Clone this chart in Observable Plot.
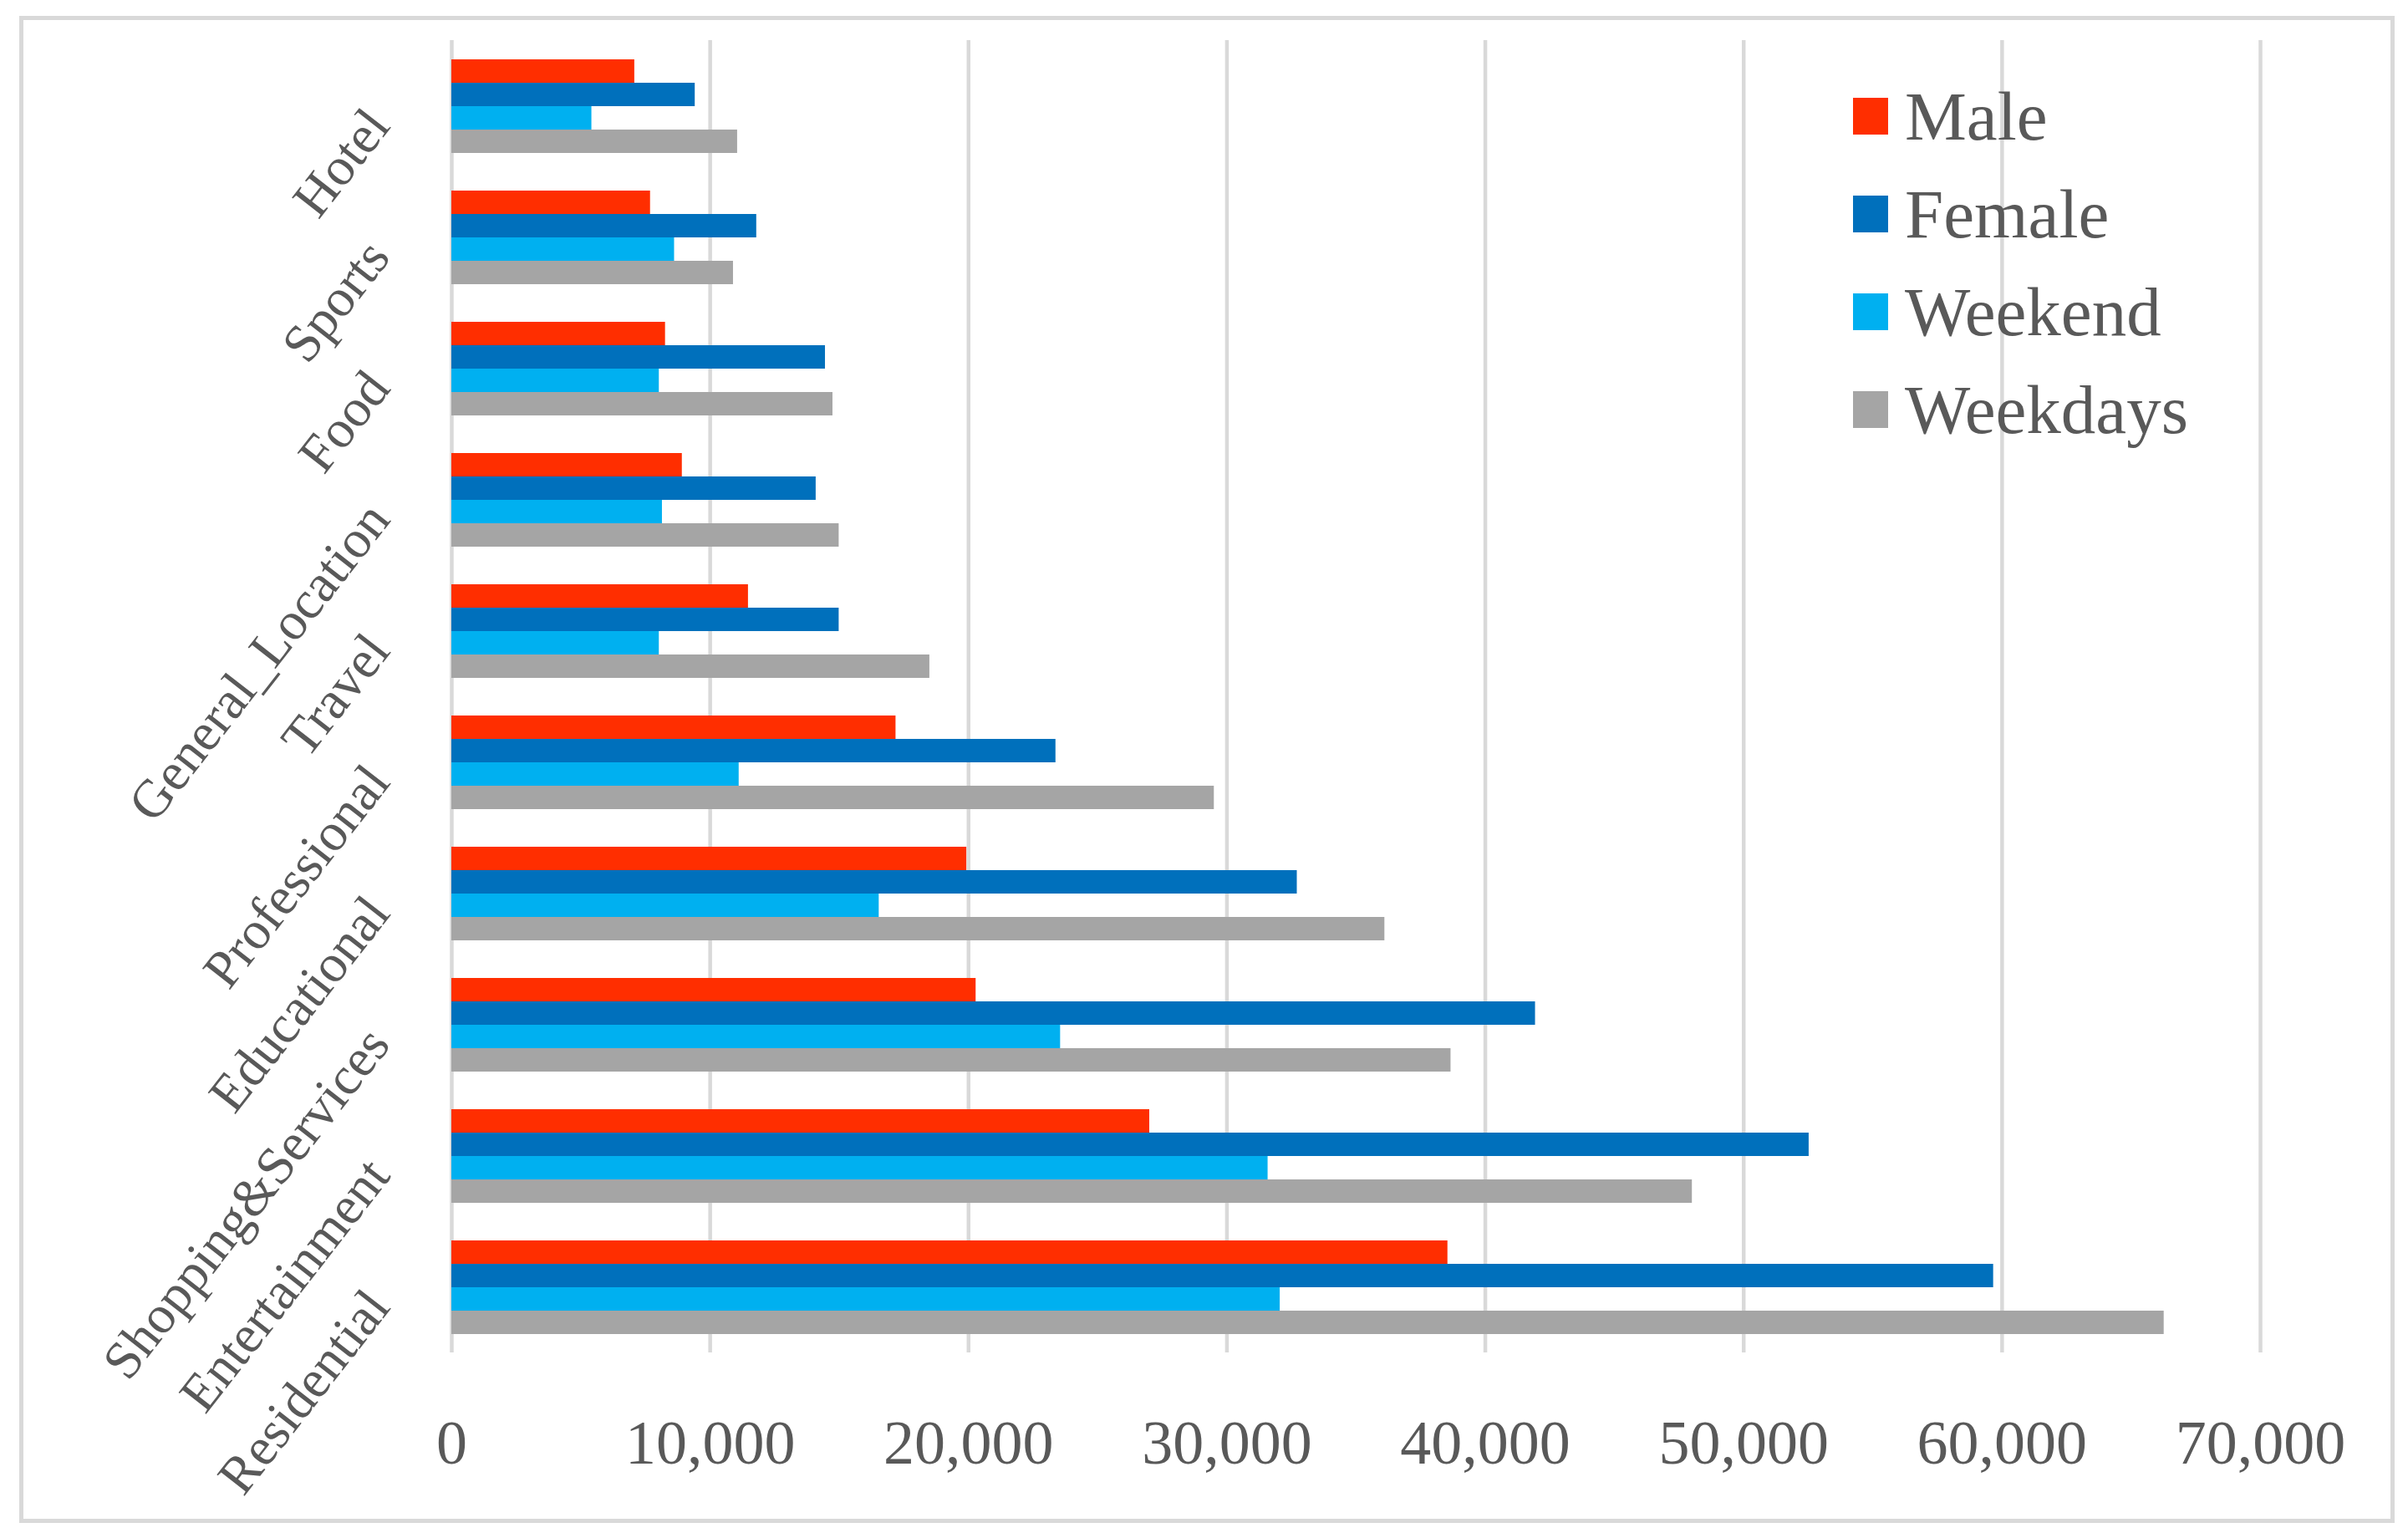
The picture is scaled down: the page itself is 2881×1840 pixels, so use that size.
<!DOCTYPE html>
<html>
<head>
<meta charset="utf-8">
<script src="https://cdn.jsdelivr.net/npm/d3@7"></script>
<script src="https://cdn.jsdelivr.net/npm/@observablehq/plot@0.6"></script>
<style>
  html, body { margin: 0; padding: 0; background: #fff; }
  #wrap { position: relative; width: 2881px; height: 1840px; overflow: hidden; }
  #border { position: absolute; left: 23px; top: 19px; width: 2842px; height: 1803px; box-sizing: border-box; border: 5px solid #d9d9d9; pointer-events: none; }
  #legend { position: absolute; left: 2217px; top: 80px; font-family: "Liberation Serif", serif; font-size: 83px; color: #595959; }
  .row { display: flex; align-items: center; height: 117px; }
  .sw { width: 42px; height: 44px; margin-right: 20px; }
</style>
</head>
<body>
<div id="wrap"><div id="border"></div><div id="legend"></div></div>
<script>
const categories = ["Hotel", "Sports", "Food", "General_Location", "Travel", "Professional", "Educational", "Shopping&Services", "Entertainment", "Residential"];
const series = ["Male", "Female", "Weekend", "Weekdays"];
const colors = ["#FF2E00", "#0070BC", "#00B0F0", "#A5A5A5"];
const male     = [7080, 7690, 8270, 8920, 11480, 17190, 19930, 20290, 27010, 38550];
const female   = [9420, 11800, 14460, 14100, 14990, 23380, 32720, 41940, 52530, 59670];
const weekend  = [5420, 8620, 8030, 8150, 8030, 11120, 16540, 23560, 31590, 32060];
const weekdays = [11060, 10900, 14750, 14990, 18500, 29510, 36110, 38670, 48010, 66270];
const xTicks = [0, 10000, 20000, 30000, 40000, 50000, 60000, 70000];

const valuesBySeries = [male, female, weekend, weekdays];
const rows = [];
categories.forEach((c, i) => series.forEach((s, j) => rows.push({category: c, series: s, value: valuesBySeries[j][i]})));

const chart = Plot.plot({
  width: 2881,
  height: 1840,
  marginLeft: 540,
  marginRight: 177,
  marginTop: 45,
  marginBottom: 220,
  style: {fontFamily: "Liberation Serif, serif", color: "#595959", background: "transparent"},
  x: {domain: [0, 70000], ticks: xTicks, tickFormat: d3.format(","), label: null},
  y: {domain: series, paddingInner: 0, paddingOuter: 0.8, axis: null},
  fy: {domain: categories, padding: 0, label: null},
  color: {domain: series, range: colors},
  marks: [
    Plot.gridX(xTicks, {stroke: "#d9d9d9", strokeOpacity: 1, strokeWidth: 4.5}),
    Plot.barX(rows, {x: "value", y: "series", fy: "category", fill: "series"}),
    Plot.axisX({ticks: xTicks, tickFormat: d3.format(","), tickSize: 0, tickPadding: 80, fontSize: 74, fill: "#595959", label: null}),
    Plot.axisFy({anchor: "left", tickSize: 0, tickPadding: 88, tickRotate: -52, fontSize: 64, fill: "#595959", label: null, dy: 12})
  ]
});
document.getElementById("wrap").prepend(chart);
chart.style.position = "absolute";
chart.style.left = "0";
chart.style.top = "0";

const legend = document.getElementById("legend");
series.forEach((s, j) => {
  const r = document.createElement("div");
  r.className = "row";
  const sw = document.createElement("div");
  sw.className = "sw";
  sw.style.background = colors[j];
  const t = document.createElement("span");
  t.textContent = s;
  r.appendChild(sw); r.appendChild(t);
  legend.appendChild(r);
});
</script>
</body>
</html>
